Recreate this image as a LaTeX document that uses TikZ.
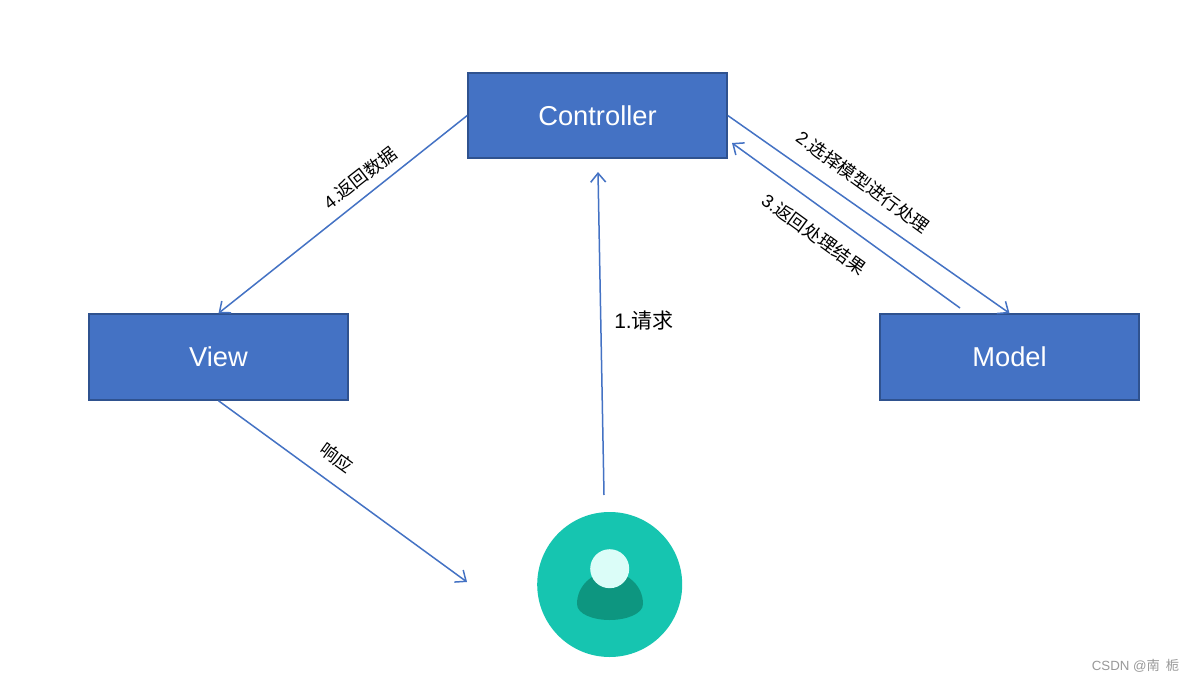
\documentclass[tikz,border=0pt]{standalone}
\usepackage{fontspec}
\setmainfont{Liberation Sans}
\newfontfamily\cjk{Noto Sans CJK SC}
\usetikzlibrary{arrows.meta}
\definecolor{boxfill}{HTML}{4472C4}
\definecolor{boxline}{HTML}{2F528F}
\definecolor{avatar}{HTML}{16C5B0}
\definecolor{avatardark}{HTML}{0D9680}
\definecolor{avatarlight}{HTML}{DBFDF8}
\tikzset{
  x=1pt,y=-1pt,
  mvc/.style={draw=boxline,fill=boxfill,line width=2pt,minimum width=258.5pt,minimum height=85.5pt,inner sep=0pt,text=white,font=\fontsize{27.3}{30}\selectfont},
  flow/.style={draw=boxfill,line width=1.5pt,-{Straight Barb[length=9pt,width=15pt,line width=1.5pt]}},
  lab/.style={inner sep=0pt,font=\fontsize{18}{22}\selectfont,text=black},
}
\begin{document}
\begin{tikzpicture}
\useasboundingbox (0,0) rectangle (1194,682);
\fill[white] (0,0) rectangle (1194,682);
\node[mvc] (ctrl) at (597.5,115.5) {Controller};
\node[mvc] (view) at (218.5,357) {View};
\node[mvc] (model) at (1009.5,357) {Model};
\node[circle,fill=avatar,minimum size=145pt,inner sep=0pt] (user) at (609.7,584.5) {};
\fill[avatardark] (577,604) .. controls (577,586) and (592,572) .. (609.7,572) .. controls (628,572) and (643,586) .. (643,604) .. controls (643,614) and (626,620) .. (609.7,620) .. controls (593,620) and (577,614) .. (577,604) -- cycle;
\node[circle,fill=avatarlight,minimum size=39pt,inner sep=0pt] (head) at (609.7,568.7) {};
\coordinate (userin) at (467,582);
\coordinate (userout) at (604,495);
\coordinate (ctrlin) at (598,172);
\coordinate (ctrlback) at (732,143);
\coordinate (modelout) at (960,308);
\draw[flow] (userout) -- (ctrlin);
\draw[flow] (ctrl.east) -- (model.north);
\draw[flow] (modelout) -- (ctrlback);
\draw[flow] (ctrl.west) -- (view.north);
\draw[flow] (view.south) -- (userin);
\node[lab,font=\fontsize{21}{24}\selectfont] (l1) at (644,321) {1.{\cjk 请求}};
\node[lab,rotate=-36] (l2) at (863,182) {2.{\cjk 选择模型进行处理}};
\node[lab,rotate=-36] (l3) at (814,234) {3.{\cjk 返回处理结果}};
\node[lab,rotate=38] (l4) at (360,178) {4.{\cjk 返回数据}};
\node[lab,rotate=-36] (l5) at (337,458) {\cjk 响应};
\node[inner sep=0pt,text=black!40,font=\fontsize{13.3}{15}\selectfont] (mark) at (1135.5,666) {CSDN @{\cjk 南\ \ 栀}};
\end{tikzpicture}
\end{document}
